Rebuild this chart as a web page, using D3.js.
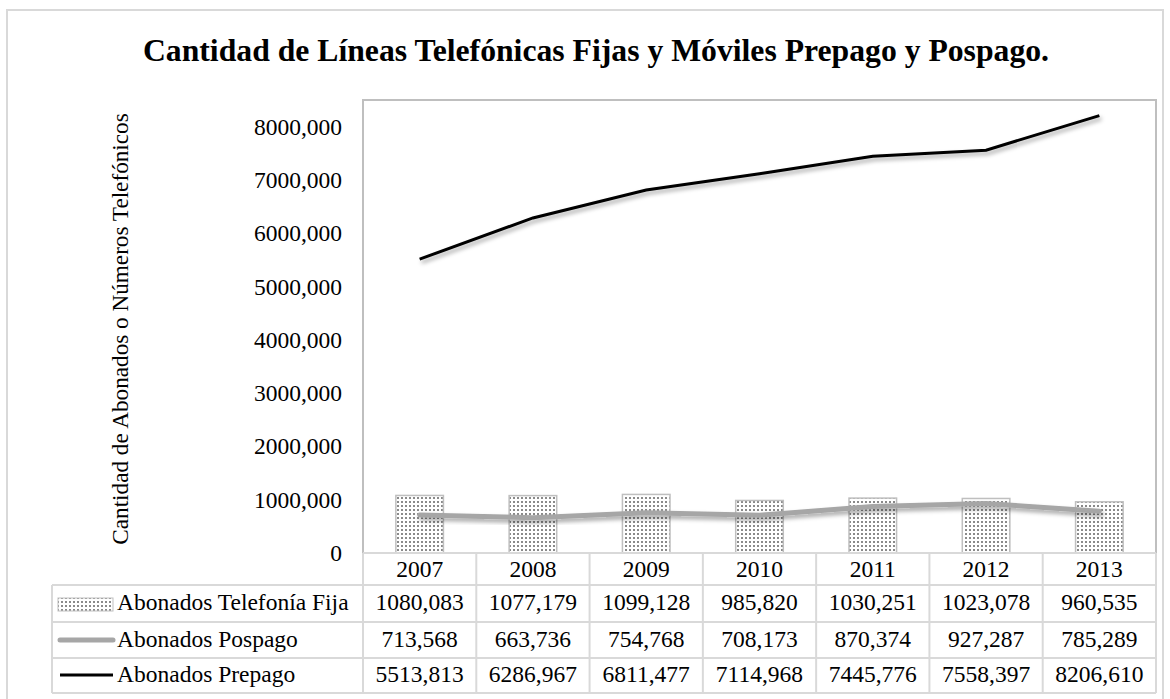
<!DOCTYPE html>
<html>
<head>
<meta charset="utf-8">
<script src="https://cdn.jsdelivr.net/npm/d3@7"></script>
<style>
  body { margin: 0; background: #fff; }
  text { font-family: "Liberation Serif", "Times New Roman", serif; fill: #000; }
</style>
</head>
<body>
<div id="chart"></div>
<script>
const width = 1170;
const height = 699;
const title = 'Cantidad de Líneas Telefónicas Fijas y Móviles Prepago y Pospago.';
const yTitle = 'Cantidad de Abonados o Números Telefónicos';

// datos (miles)
const years = ['2007', '2008', '2009', '2010', '2011', '2012', '2013'];
const fija = [1080.083, 1077.179, 1099.128, 985.820, 1030.251, 1023.078, 960.535];
const pospago = [713.568, 663.736, 754.768, 708.173, 870.374, 927.287, 785.289];
const prepago = [5513.813, 6286.967, 6811.477, 7114.968, 7445.776, 7558.397, 8206.610];
const yTicks = [0, 1000, 2000, 3000, 4000, 5000, 6000, 7000, 8000];
const seriesNames = ['Abonados Telefonía Fija', 'Abonados Pospago', 'Abonados Prepago'];

const plotLeft = 363;
const plotRight = 1156;
const plotTop = 100;
const plotBottom = 553;
const tableLeft = 52;
const rowTops = [553, 585, 622, 658, 693];
const fontSize = '23.5px';

const fmt = v => v === 0 ? '0' : d3.format('.3f')(v).replace('.', ',');

const svg = d3.select('#chart').append('svg')
  .attr('width', width)
  .attr('height', height)
  .style('display', 'block');

const defs = svg.append('defs');
const pat = defs.append('pattern')
  .attr('id', 'dots')
  .attr('width', 4)
  .attr('height', 4)
  .attr('patternUnits', 'userSpaceOnUse');
pat.append('rect').attr('width', 4).attr('height', 4).attr('fill', '#fff');
pat.append('rect').attr('x', 1).attr('y', 1).attr('width', 2).attr('height', 2).attr('fill', '#8a8a8a');

const shadow = defs.append('filter')
  .attr('id', 'shadow')
  .attr('x', '-10%').attr('y', '-50%')
  .attr('width', '120%').attr('height', '200%');
shadow.append('feDropShadow')
  .attr('dx', 2).attr('dy', 3)
  .attr('stdDeviation', 2)
  .attr('flood-color', '#000')
  .attr('flood-opacity', 0.35);

// marco exterior
svg.append('rect')
  .attr('x', 7).attr('y', 10)
  .attr('width', 1156).attr('height', 700)
  .attr('fill', '#fff')
  .attr('stroke', '#d9d9d9')
  .attr('stroke-width', 2);

svg.append('text')
  .attr('x', 596)
  .attr('y', 61)
  .attr('text-anchor', 'middle')
  .style('font-size', '31.7px')
  .style('font-weight', 'bold')
  .text(title);

const x = d3.scaleBand().domain(years).range([plotLeft, plotRight]);
const y = d3.scaleLinear().domain([0, 8500]).range([plotBottom, plotTop]);

// área del gráfico
svg.append('rect')
  .attr('x', plotLeft).attr('y', plotTop)
  .attr('width', plotRight - plotLeft).attr('height', plotBottom - plotTop)
  .attr('fill', 'none')
  .attr('stroke', '#bfbfbf')
  .attr('stroke-width', 2);

// eje y
const yAxis = svg.append('g')
  .attr('transform', `translate(${plotLeft - 21},0)`)
  .call(d3.axisLeft(y).tickValues(yTicks).tickFormat(fmt).tickSize(0).tickPadding(0));
yAxis.select('.domain').remove();
yAxis.selectAll('text')
  .style('font-family', '"Liberation Serif", serif')
  .style('font-size', fontSize)
  .attr('fill', '#000');

svg.append('text')
  .attr('transform', `translate(128,329) rotate(-90)`)
  .attr('text-anchor', 'middle')
  .style('font-size', '23.2px')
  .text(yTitle);

// barras
const barW = x.bandwidth() * 0.42;
svg.append('g').selectAll('rect')
  .data(fija)
  .join('rect')
  .attr('x', (d, i) => x(years[i]) + (x.bandwidth() - barW) / 2)
  .attr('y', d => y(d))
  .attr('width', barW)
  .attr('height', d => plotBottom - y(d))
  .attr('fill', 'url(#dots)')
  .attr('stroke', '#bfbfbf')
  .attr('stroke-width', 1.5);

const line = d3.line()
  .x((d, i) => x(years[i]) + x.bandwidth() / 2)
  .y(d => y(d));

svg.append('path')
  .datum(pospago)
  .attr('d', line)
  .attr('fill', 'none')
  .attr('stroke', '#a6a6a6')
  .attr('stroke-width', 5)
  .attr('stroke-linecap', 'round')
  .attr('filter', 'url(#shadow)');

svg.append('path')
  .datum(prepago)
  .attr('d', line)
  .attr('fill', 'none')
  .attr('stroke', '#000')
  .attr('stroke-width', 3)
  .attr('filter', 'url(#shadow)');

// tabla de datos
const grid = svg.append('g')
  .attr('stroke', '#d9d9d9')
  .attr('stroke-width', 2);
rowTops.forEach((ry, i) => {
  grid.append('line')
    .attr('x1', i < 1 ? plotLeft : tableLeft)
    .attr('x2', plotRight)
    .attr('y1', ry).attr('y2', ry);
});
grid.append('line')
  .attr('x1', tableLeft).attr('x2', tableLeft)
  .attr('y1', rowTops[1]).attr('y2', rowTops[4]);
years.forEach(yr => {
  grid.append('line')
    .attr('x1', x(yr)).attr('x2', x(yr))
    .attr('y1', rowTops[0]).attr('y2', rowTops[4]);
});
grid.append('line')
  .attr('x1', plotRight).attr('x2', plotRight)
  .attr('y1', rowTops[0]).attr('y2', rowTops[4]);

const cellText = (yr, ry, txt) => svg.append('text')
  .attr('x', x(yr) + x.bandwidth() / 2)
  .attr('y', ry)
  .attr('text-anchor', 'middle')
  .style('font-size', fontSize)
  .text(txt);

const baselines = [577, 610, 647, 682];
years.forEach((yr, i) => {
  cellText(yr, baselines[0], yr);
  cellText(yr, baselines[1], fmt(fija[i]));
  cellText(yr, baselines[2], fmt(pospago[i]));
  cellText(yr, baselines[3], fmt(prepago[i]));
});

// leyenda en la tabla
svg.append('rect')
  .attr('x', 58).attr('y', 598)
  .attr('width', 55).attr('height', 13)
  .attr('fill', 'url(#dots)')
  .attr('stroke', '#bfbfbf')
  .attr('stroke-width', 1);
svg.append('line')
  .attr('x1', 60).attr('x2', 113)
  .attr('y1', 640).attr('y2', 640)
  .attr('stroke', '#a6a6a6')
  .attr('stroke-width', 5)
  .attr('stroke-linecap', 'round');
svg.append('line')
  .attr('x1', 60).attr('x2', 113)
  .attr('y1', 675).attr('y2', 675)
  .attr('stroke', '#000')
  .attr('stroke-width', 3);

seriesNames.forEach((name, i) => {
  svg.append('text')
    .attr('x', 117)
    .attr('y', baselines[i + 1])
    .style('font-size', fontSize)
    .text(name);
});
</script>
</body>
</html>
